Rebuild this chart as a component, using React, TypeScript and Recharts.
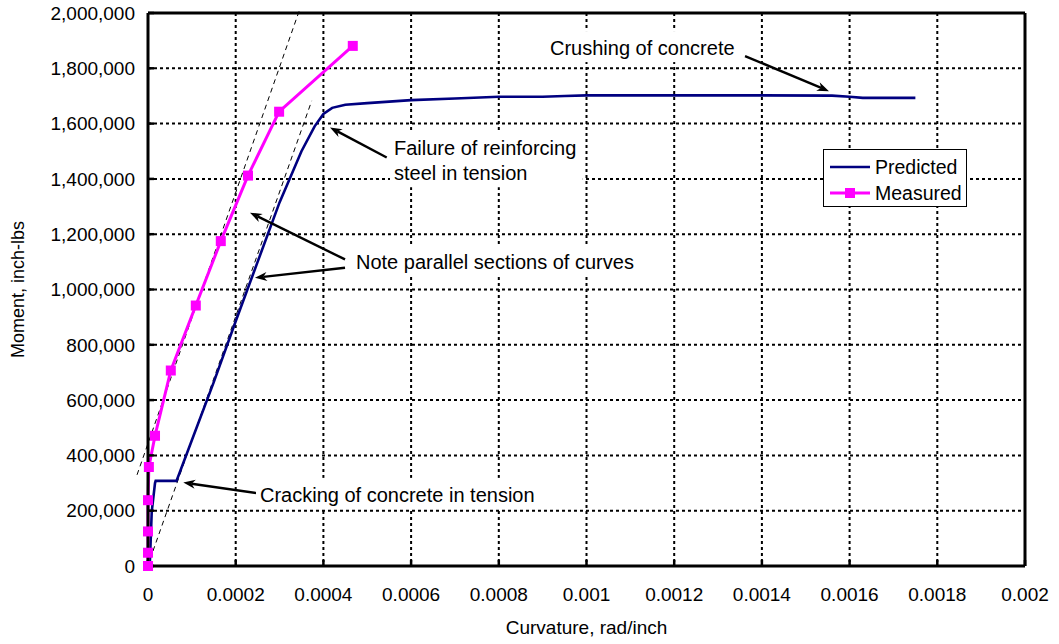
import React from "react";
import {
  LineChart,
  Line,
  XAxis,
  YAxis,
  CartesianGrid,
  Legend,
  ReferenceLine,
  ReferenceDot,
} from "recharts";

// Moment-curvature response of the test beam
const predictedCurvature = [
  0.000004, 0.0000085, 0.000016, 0.0000175, 0.000065, 0.0001, 0.00015, 0.0002,
  0.00025, 0.0003, 0.00035, 0.00038, 0.0004, 0.00042, 0.00045, 0.0005, 0.0006,
  0.0007, 0.0008, 0.0009, 0.00095, 0.001, 0.0012, 0.0014, 0.00156, 0.0016,
  0.00163, 0.00175,
];
const predictedMoment = [
  0, 196000, 300000, 308000, 308000, 455000, 665000, 885000, 1100000, 1315000,
  1500000, 1590000, 1635000, 1657000, 1668000, 1674000, 1685000, 1691000,
  1697000, 1697000, 1700000, 1702000, 1702000, 1702000, 1701000, 1697000,
  1693000, 1693000,
];

const measuredCurvature = [
  0, 0, 0, 0, 0.000002, 0.000016, 0.000052, 0.000109, 0.000166, 0.000228,
  0.000299, 0.000467,
];
const measuredMoment = [
  0, 48000, 125000, 238000, 358000, 471000, 707000, 942000, 1175000, 1412000,
  1643000, 1881000,
];

const xTicks = [
  0, 0.0002, 0.0004, 0.0006, 0.0008, 0.001, 0.0012, 0.0014, 0.0016, 0.0018,
  0.002,
];
const yTicks = [
  0, 200000, 400000, 600000, 800000, 1000000, 1200000, 1400000, 1600000,
  1800000, 2000000,
];

const predicted = predictedCurvature.map((x, i) => ({ x, m: predictedMoment[i] }));
const measured = measuredCurvature.map((x, i) => ({ x, m: measuredMoment[i] }));

// dashed guides showing the parallel portions of both curves
const guides = [
  [{ x: -0.000025, y: 329700 }, { x: 0.0003455, y: 2010900 }],
  [{ x: -0.0000023, y: -7200 }, { x: 0.0003733, y: 1682300 }],
];

// callout arrows: [start, tip]
const arrows = [
  [{ x: 0.0013615, y: 1844200 }, { x: 0.001553, y: 1717400 }],
  [{ x: 0.0005444, y: 1477200 }, { x: 0.000415, y: 1585900 }],
  [{ x: 0.0004493, y: 1108700 }, { x: 0.0002326, y: 1277900 }],
  [{ x: 0.0004493, y: 1078600 }, { x: 0.000244, y: 1042400 }],
  [{ x: 0.0002479, y: 263400 }, { x: 0.0000805, y: 301800 }],
];

// callout text boxes, anchored at the left end / middle of the first line
const notes = [
  { x: 0.0009168, y: 1873200, lines: ["Crushing of concrete"] },
  { x: 0.000561, y: 1510900, lines: ["Failure of reinforcing", "steel in tension"] },
  { x: 0.0004743, y: 1097800, lines: ["Note parallel sections of curves"] },
  { x: 0.0002554, y: 257200, lines: ["Cracking of concrete in tension"] },
];

const FONT = '"Liberation Sans", Arial, sans-serif';
const NAVY = "#000080";
const MAGENTA = "#FF00FF";
const NOTE_SIZE = 20;
const LINE_GAP = 25;

const fmtMoment = (v: number) => v.toLocaleString("en-US");

const Arrow = (props: any) => {
  const { x1, y1, x2, y2 } = props;
  if ([x1, y1, x2, y2].some((v) => typeof v !== "number")) return null;
  const ang = Math.atan2(y2 - y1, x2 - x1);
  const len = 12;
  const half = 4.5;
  const bx = x2 - len * Math.cos(ang);
  const by = y2 - len * Math.sin(ang);
  const nx = -Math.sin(ang);
  const ny = Math.cos(ang);
  const notchX = x2 - len * 0.7 * Math.cos(ang);
  const notchY = y2 - len * 0.7 * Math.sin(ang);
  return (
    <g>
      <line x1={x1} y1={y1} x2={notchX} y2={notchY} stroke="#000" strokeWidth={2.4} />
      <path
        d={`M${x2},${y2} L${bx + nx * half},${by + ny * half} L${notchX},${notchY} L${bx - nx * half},${by - ny * half} Z`}
        fill="#000"
      />
    </g>
  );
};

const NoteBox = (props: any) => {
  const { cx, cy, lines } = props;
  if (typeof cx !== "number" || typeof cy !== "number") return null;
  const longest = Math.max(...lines.map((l: string) => l.length));
  const w = longest * NOTE_SIZE * 0.42 + 8;
  const h = (lines.length - 1) * LINE_GAP + NOTE_SIZE + 11;
  return (
    <g>
      <rect x={cx - 4} y={cy - NOTE_SIZE / 2 - 7} width={w} height={h} fill="#fff" />
      {lines.map((l: string, i: number) => (
        <text
          key={i}
          x={cx}
          y={cy + i * LINE_GAP}
          dominantBaseline="central"
          fontSize={NOTE_SIZE}
          fontFamily={FONT}
          fill="#000"
        >
          {l}
        </text>
      ))}
    </g>
  );
};

const SquareDot = (props: any) => {
  const { cx, cy } = props;
  if (typeof cx !== "number" || typeof cy !== "number") return null;
  return <rect x={cx - 5} y={cy - 5} width={10} height={10} fill={MAGENTA} />;
};

const YTitle = (props: any) => {
  const vb = props.viewBox || { x: 0, y: 13, height: 553 };
  const x = vb.x + 18;
  const y = vb.y + vb.height / 2;
  return (
    <text
      x={x}
      y={y}
      transform={`rotate(-90, ${x}, ${y})`}
      textAnchor="middle"
      dominantBaseline="central"
      fontSize={18}
      fontFamily={FONT}
      fill="#000"
    >
      Moment, inch-lbs
    </text>
  );
};

const LegendBox = () => (
  <div
    style={{
      border: "1.5px solid #000",
      background: "#fff",
      width: 144,
      height: 58,
      boxSizing: "border-box",
      position: "relative",
    }}
  >
    <svg width={142} height={56} style={{ position: "absolute", left: 0, top: 0 }}>
      <line x1={6} y1={17} x2={46} y2={17} stroke={NAVY} strokeWidth={2.5} />
      <line x1={6} y1={43} x2={46} y2={43} stroke={MAGENTA} strokeWidth={3} />
      <rect x={21} y={38} width={10} height={10} fill={MAGENTA} />
      <text x={51} y={17} dominantBaseline="central" fontSize={19.5} fontFamily={FONT}>
        Predicted
      </text>
      <text x={51} y={43} dominantBaseline="central" fontSize={19.5} fontFamily={FONT}>
        Measured
      </text>
    </svg>
  </div>
);

export default function App() {
  const tick = { fontSize: 19, fontFamily: FONT, fill: "#000" };
  return (
    <div
      style={{
        position: "absolute",
        left: 0,
        top: 0,
        width: 1059,
        height: 644,
        background: "#fff",
        fontFamily: FONT,
      }}
    >
      <LineChart
        width={1059}
        height={644}
        margin={{ top: 13, right: 34, bottom: 0, left: 0 }}
      >
        <CartesianGrid
          stroke="#000"
          strokeWidth={2}
          strokeDasharray="3 3"
          verticalValues={xTicks}
          horizontalValues={yTicks}
        />
        <XAxis
          type="number"
          dataKey="x"
          domain={[0, 0.002]}
          ticks={xTicks}
          tickFormatter={(v: number) => String(v)}
          height={78}
          tick={tick}
          tickSize={-6}
          tickMargin={28}
          axisLine={{ stroke: "#000", strokeWidth: 3 }}
          tickLine={{ stroke: "#000", strokeWidth: 2.5 }}
          label={{
            value: "Curvature, rad/inch",
            position: "insideBottom",
            offset: 10,
            fontSize: 19,
            fontFamily: FONT,
            fill: "#000",
          }}
        />
        <YAxis
          type="number"
          dataKey="m"
          domain={[0, 2000000]}
          ticks={yTicks}
          tickFormatter={fmtMoment}
          width={148}
          tick={tick}
          tickSize={-6}
          tickMargin={19}
          axisLine={{ stroke: "#000", strokeWidth: 3 }}
          tickLine={{ stroke: "#000", strokeWidth: 2.5 }}
          label={<YTitle />}
        />
        {/* top and right frame of the plot area */}
        <ReferenceLine y={2000000} stroke="#000" strokeWidth={3} />
        <ReferenceLine x={0.002} stroke="#000" strokeWidth={3} />

        {notes.map((n, i) => (
          <ReferenceDot
            key={`n${i}`}
            x={n.x}
            y={n.y}
            r={0}
            ifOverflow="visible"
            shape={(p: any) => <NoteBox {...p} lines={n.lines} />}
          />
        ))}

        {guides.map((seg, i) => (
          <ReferenceLine
            key={`g${i}`}
            segment={seg}
            ifOverflow="visible"
            stroke="#000"
            strokeWidth={1}
            strokeDasharray="5 4"
          />
        ))}

        <Line
          data={predicted}
          dataKey="m"
          name="Predicted"
          stroke={NAVY}
          strokeWidth={2.6}
          dot={false}
          type="linear"
          isAnimationActive={false}
        />
        <Line
          data={measured}
          dataKey="m"
          name="Measured"
          stroke={MAGENTA}
          strokeWidth={3}
          dot={<SquareDot />}
          type="linear"
          isAnimationActive={false}
        />

        {arrows.map((seg, i) => (
          <ReferenceLine key={`a${i}`} segment={seg} ifOverflow="visible" shape={<Arrow />} />
        ))}

        <Legend
          layout="vertical"
          align="center"
          verticalAlign="middle"
          content={<LegendBox />}
          wrapperStyle={{ left: 823, top: 149, width: 144, height: 58 }}
        />
      </LineChart>
    </div>
  );
}
